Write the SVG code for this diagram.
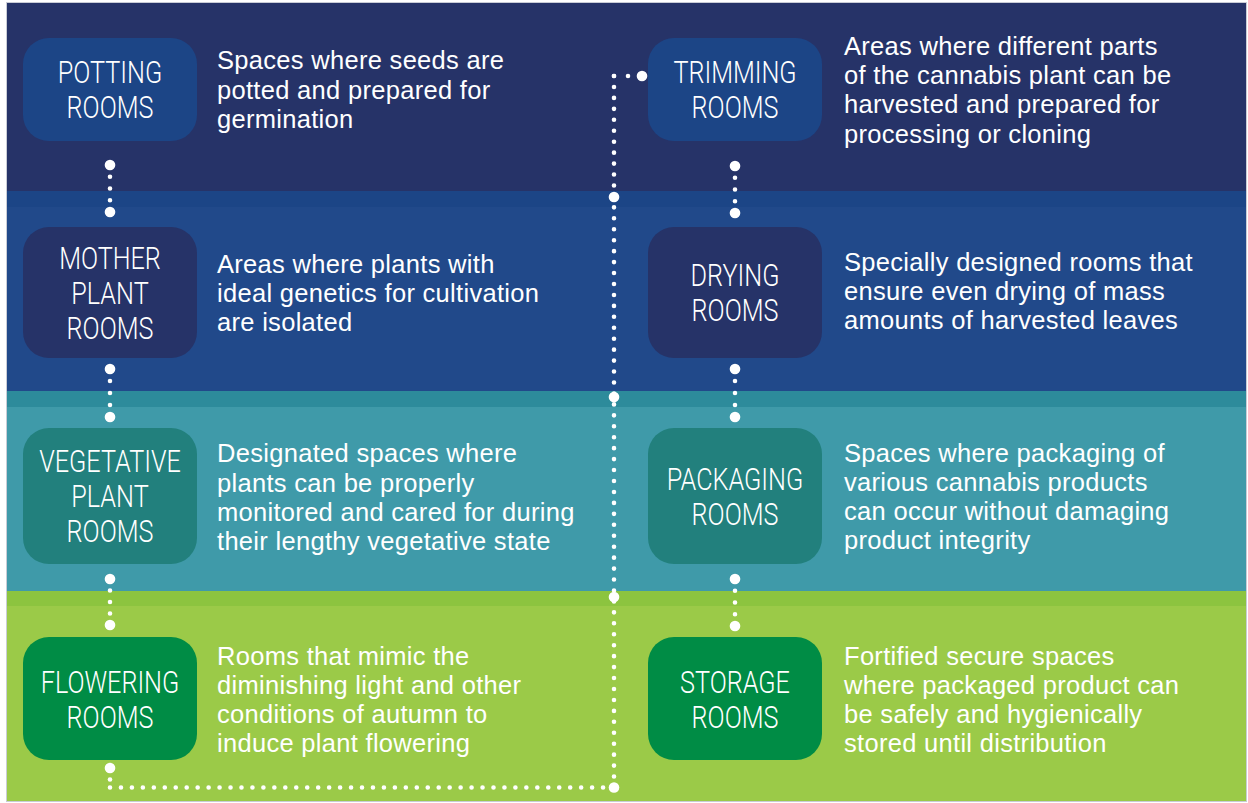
<svg xmlns="http://www.w3.org/2000/svg" width="1248" height="803" viewBox="0 0 1248 803">
  <style>
    .label { font-family: Roboto, "Liberation Sans", sans-serif; font-weight: 300; font-size: 31.5px; fill: #ffffff; text-anchor: middle; }
    .desc { font-family: "Liberation Sans", Arial, sans-serif; font-size: 25.5px; letter-spacing: 0.3px; fill: #ffffff; }
    .chain { fill: none; stroke: #ffffff; stroke-width: 4.6; stroke-linecap: round; }
    .big { fill: #ffffff; }
    .c-blue { fill: #1c4586; }
    .c-navy { fill: #263368; }
    .c-teal { fill: #22807d; }
    .c-green { fill: #008c45; }
  </style>

  <!-- background bands -->
  <g id="bands">
    <rect x="0" y="0" width="1248" height="803" fill="#ffffff"/>
    <rect x="7" y="3" width="1239" height="188" fill="#263368"/>
    <rect x="7" y="191" width="1239" height="16" fill="#1c4586"/>
    <rect x="7" y="207" width="1239" height="184" fill="#21498a"/>
    <rect x="7" y="391" width="1239" height="16" fill="#2d8b9b"/>
    <rect x="7" y="407" width="1239" height="184" fill="#3f9aa9"/>
    <rect x="7" y="591" width="1239" height="15" fill="#8cc43f"/>
    <rect x="7" y="606" width="1239" height="195" fill="#9bca48"/>
    <rect x="6.5" y="2.5" width="1240" height="799" fill="none" stroke="#c9ccd6" stroke-width="1"/>
  </g>

  <!-- dotted connectors -->
  <g id="connectors">
    <path class="chain" d="M110,165 V212" stroke-dasharray="0 11.75"/>
    <circle class="big" cx="110" cy="165" r="5.3"/>
    <circle class="big" cx="110" cy="212" r="5.3"/>

    <path class="chain" d="M110,369 V417" stroke-dasharray="0 12"/>
    <circle class="big" cx="110" cy="369" r="5.3"/>
    <circle class="big" cx="110" cy="417" r="5.3"/>

    <path class="chain" d="M110,579 V625" stroke-dasharray="0 11.5"/>
    <circle class="big" cx="110" cy="579" r="5.3"/>
    <circle class="big" cx="110" cy="625" r="5.3"/>

    <path class="chain" d="M735,166 V213" stroke-dasharray="0 11.75"/>
    <circle class="big" cx="735" cy="166" r="5.3"/>
    <circle class="big" cx="735" cy="213" r="5.3"/>

    <path class="chain" d="M735,369 V417" stroke-dasharray="0 12"/>
    <circle class="big" cx="735" cy="369" r="5.3"/>
    <circle class="big" cx="735" cy="417" r="5.3"/>

    <path class="chain" d="M735,579 V626" stroke-dasharray="0 11.75"/>
    <circle class="big" cx="735" cy="579" r="5.3"/>
    <circle class="big" cx="735" cy="626" r="5.3"/>

    <!-- long return path: flowering to trimming -->
    <circle class="big" cx="110" cy="768" r="5.3"/>
    <circle class="big" cx="110" cy="779.5" r="2.3"/>
    <path class="chain" d="M110,787.5 H614" stroke-dasharray="0 10.957"/>
    <path class="chain" d="M614,787.5 V76" stroke-dasharray="0 10.946"/>
    <path class="chain" d="M614,76 H642" stroke-dasharray="0 14"/>
    <circle class="big" cx="614" cy="787.5" r="5.3"/>
    <circle class="big" cx="614" cy="597" r="5.3"/>
    <circle class="big" cx="614" cy="397" r="5.3"/>
    <circle class="big" cx="614" cy="197" r="5.3"/>
    <circle class="big" cx="642" cy="76" r="5.3"/>
  </g>

  <!-- left column -->
  <g id="potting">
    <rect class="c-blue" x="23" y="38" width="174" height="103" rx="26"/>
    <g transform="translate(110,0) scale(0.8,1)">
      <text class="label" x="0" y="83">POTTING</text>
      <text class="label" x="0" y="118">ROOMS</text>
    </g>
    <text class="desc" x="217" y="69">Spaces where seeds are</text>
    <text class="desc" x="217" y="98.5">potted and prepared for</text>
    <text class="desc" x="217" y="128">germination</text>
  </g>

  <g id="mother">
    <rect class="c-navy" x="23" y="227" width="174" height="131" rx="26"/>
    <g transform="translate(110,0) scale(0.8,1)">
      <text class="label" x="0" y="269">MOTHER</text>
      <text class="label" x="0" y="304">PLANT</text>
      <text class="label" x="0" y="339">ROOMS</text>
    </g>
    <text class="desc" x="217" y="273">Areas where plants with</text>
    <text class="desc" x="217" y="302">ideal genetics for cultivation</text>
    <text class="desc" x="217" y="331">are isolated</text>
  </g>

  <g id="vegetative">
    <rect class="c-teal" x="23" y="428" width="174" height="136" rx="26"/>
    <g transform="translate(110,0) scale(0.8,1)">
      <text class="label" x="0" y="472">VEGETATIVE</text>
      <text class="label" x="0" y="507">PLANT</text>
      <text class="label" x="0" y="542">ROOMS</text>
    </g>
    <text class="desc" x="217" y="462">Designated spaces where</text>
    <text class="desc" x="217" y="491.5">plants can be properly</text>
    <text class="desc" x="217" y="521">monitored and cared for during</text>
    <text class="desc" x="217" y="550">their lengthy vegetative state</text>
  </g>

  <g id="flowering">
    <rect class="c-green" x="23" y="637" width="174" height="123" rx="26"/>
    <g transform="translate(110,0) scale(0.8,1)">
      <text class="label" x="0" y="693">FLOWERING</text>
      <text class="label" x="0" y="728">ROOMS</text>
    </g>
    <text class="desc" x="217" y="665">Rooms that mimic the</text>
    <text class="desc" x="217" y="694">diminishing light and other</text>
    <text class="desc" x="217" y="723">conditions of autumn to</text>
    <text class="desc" x="217" y="752">induce plant flowering</text>
  </g>

  <!-- right column -->
  <g id="trimming">
    <rect class="c-blue" x="648" y="38" width="174" height="103" rx="26"/>
    <g transform="translate(735,0) scale(0.8,1)">
      <text class="label" x="0" y="83">TRIMMING</text>
      <text class="label" x="0" y="118">ROOMS</text>
    </g>
    <text class="desc" x="844" y="55">Areas where different parts</text>
    <text class="desc" x="844" y="84">of the cannabis plant can be</text>
    <text class="desc" x="844" y="113">harvested and prepared for</text>
    <text class="desc" x="844" y="142.5">processing or cloning</text>
  </g>

  <g id="drying">
    <rect class="c-navy" x="648" y="227" width="174" height="131" rx="26"/>
    <g transform="translate(735,0) scale(0.8,1)">
      <text class="label" x="0" y="286">DRYING</text>
      <text class="label" x="0" y="321">ROOMS</text>
    </g>
    <text class="desc" x="844" y="271">Specially designed rooms that</text>
    <text class="desc" x="844" y="300">ensure even drying of mass</text>
    <text class="desc" x="844" y="329">amounts of harvested leaves</text>
  </g>

  <g id="packaging">
    <rect class="c-teal" x="648" y="428" width="174" height="136" rx="26"/>
    <g transform="translate(735,0) scale(0.8,1)">
      <text class="label" x="0" y="490">PACKAGING</text>
      <text class="label" x="0" y="525">ROOMS</text>
    </g>
    <text class="desc" x="844" y="462">Spaces where packaging of</text>
    <text class="desc" x="844" y="491">various cannabis products</text>
    <text class="desc" x="844" y="520">can occur without damaging</text>
    <text class="desc" x="844" y="549">product integrity</text>
  </g>

  <g id="storage">
    <rect class="c-green" x="648" y="637" width="174" height="123" rx="26"/>
    <g transform="translate(735,0) scale(0.8,1)">
      <text class="label" x="0" y="693">STORAGE</text>
      <text class="label" x="0" y="728">ROOMS</text>
    </g>
    <text class="desc" x="844" y="665">Fortified secure spaces</text>
    <text class="desc" x="844" y="694">where packaged product can</text>
    <text class="desc" x="844" y="723">be safely and hygienically</text>
    <text class="desc" x="844" y="752">stored until distribution</text>
  </g>
</svg>
